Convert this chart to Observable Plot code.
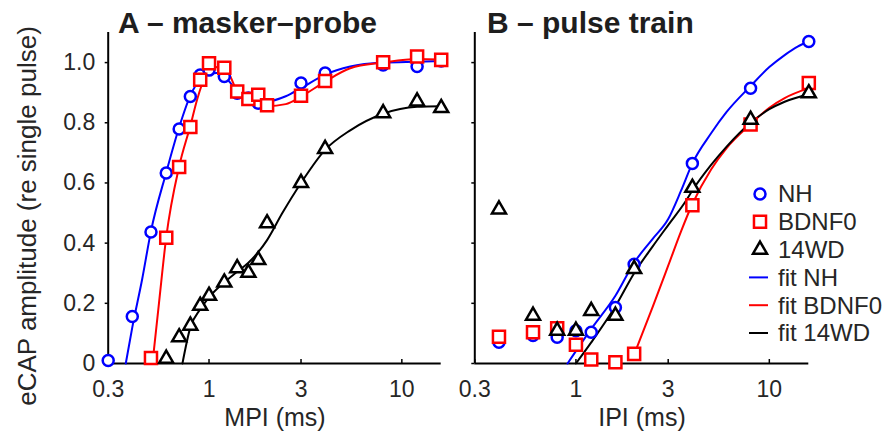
<!DOCTYPE html>
<html>
<head>
<meta charset="utf-8">
<script src="https://cdn.jsdelivr.net/npm/d3@7"></script>
<script src="https://cdn.jsdelivr.net/npm/@observablehq/plot@0.6"></script>
<style>
  body { margin: 0; background: #fff; }
  #fig { position: relative; width: 895px; height: 433px; overflow: hidden;
         font-family: "Liberation Sans", Arial, Helvetica, sans-serif; }
  #fig > svg { position: absolute; top: 0; }
  #overlay { position: absolute; left: 0; top: 0; pointer-events: none; }
</style>
</head>
<body>
<div id="fig"></div>
<script>
// ---------- Panel A: masker-probe (MPI, ms) ----------
const mpiNH = [0.3, 0.4, 0.5, 0.6, 0.7, 0.8, 0.9, 1.0, 1.2, 1.4, 1.6, 1.8, 2.0, 3, 4, 8, 12, 16];
const ampNH_A = [0.01, 0.156, 0.437, 0.633, 0.779, 0.887, 0.959, 0.975, 0.954, 0.898, 0.882, 0.865, 0.858, 0.932, 0.965, 0.992, 0.987, 1.005];

const mpiBDNF0 = [0.5, 0.6, 0.7, 0.8, 0.9, 1.0, 1.2, 1.4, 1.6, 1.8, 2.0, 3, 4, 8, 12, 16];
const ampBDNF0_A = [0.018, 0.418, 0.653, 0.786, 0.943, 0.998, 0.983, 0.904, 0.879, 0.893, 0.858, 0.890, 0.939, 1.001, 1.02, 1.009];

const mpi14WD = [0.6, 0.7, 0.8, 0.9, 1.0, 1.2, 1.4, 1.6, 1.8, 2.0, 3, 4, 8, 12, 16];
const amp14WD_A = [0.016, 0.087, 0.126, 0.192, 0.225, 0.269, 0.317, 0.302, 0.344, 0.466, 0.600, 0.713, 0.832, 0.871, 0.849];

// fitted curves, panel A
const fitNH_A_x = [0.37, 0.4, 0.45, 0.5, 0.6, 0.7, 0.8, 0.9, 1.0, 1.1, 1.2, 1.3, 1.4, 1.6, 1.8, 2.0, 2.5, 3, 4, 5.4, 8, 12, 16];
const fitNH_A_y = [0, 0.12, 0.28, 0.44, 0.635, 0.785, 0.89, 0.945, 0.963, 0.965, 0.955, 0.93, 0.905, 0.882, 0.872, 0.871, 0.888, 0.915, 0.96, 0.987, 1.0, 1.003, 1.005];
const fitBDNF0_A_x = [0.509, 0.55, 0.6, 0.7, 0.8, 0.87, 0.95, 1.05, 1.15, 1.25, 1.4, 1.6, 1.8, 2.0, 2.5, 3, 4, 5.4, 8, 12, 16];
const fitBDNF0_A_y = [0, 0.2, 0.42, 0.655, 0.79, 0.88, 0.95, 0.98, 0.987, 0.97, 0.905, 0.878, 0.862, 0.855, 0.862, 0.887, 0.937, 0.981, 1.0, 1.012, 1.01];
const fit14WD_A_x = [0.728, 0.8, 0.9, 1.0, 1.2, 1.4, 1.6, 1.8, 2.0, 2.4, 3, 4, 5.4, 8, 12, 16];
const fit14WD_A_y = [0, 0.12, 0.18, 0.22, 0.27, 0.305, 0.335, 0.37, 0.41, 0.50, 0.60, 0.71, 0.775, 0.83, 0.853, 0.855];

// ---------- Panel B: pulse train (IPI, ms) ----------
const ipi = [0.4, 0.6, 0.8, 1.0, 1.2, 1.6, 2, 4, 8, 16];
const ampNH_B = [0.071, 0.093, 0.087, 0.109, 0.104, 0.186, 0.330, 0.665, 0.915, 1.07];
const ampBDNF0_B = [0.089, 0.104, 0.117, 0.062, 0.013, 0.004, 0.032, 0.526, 0.794, 0.932];
const amp14WD_B = [0.512, 0.159, 0.109, 0.109, 0.175, 0.159, 0.314, 0.584, 0.81, 0.898];

// fitted curves, panel B
const fitNH_B_x = [0.905, 1.2, 1.6, 2, 2.5, 3, 3.5, 4, 5, 6, 8, 10, 12, 14, 16];
const fitNH_B_y = [0, 0.115, 0.225, 0.335, 0.415, 0.48, 0.575, 0.665, 0.765, 0.835, 0.922, 0.985, 1.025, 1.053, 1.07];
const fitBDNF0_B_x = [2.0, 2.5, 3, 3.5, 4, 5, 6, 8, 10, 12, 16];
const fitBDNF0_B_y = [0.03, 0.19, 0.325, 0.44, 0.53, 0.645, 0.715, 0.795, 0.85, 0.882, 0.915];
const fit14WD_B_x = [1.0, 1.2, 1.6, 2, 2.5, 3, 3.7, 4, 5, 6, 8, 10, 12, 16];
const fit14WD_B_y = [0, 0.07, 0.19, 0.30, 0.39, 0.46, 0.54, 0.575, 0.66, 0.72, 0.80, 0.845, 0.87, 0.895];

// axes
const xTicks = [0.3, 1, 3, 10];
const yTicks = [0, 0.2, 0.4, 0.6, 0.8, 1.0];
const groups = ["NH", "BDNF0", "14WD"];
const fitLabels = ["fit NH", "fit BDNF0", "fit 14WD"];
const titleA = "A \u2013 masker\u2013probe";
const titleB = "B \u2013 pulse train";
const xLabelA = "MPI (ms)";
const xLabelB = "IPI (ms)";
const yLabel = "eCAP amplitude (re single pulse)";

const colors = {NH: "#0000ff", BDNF0: "#ff0000", "14WD": "#000000"};
const symbols = {NH: "circle", BDNF0: "square", "14WD": "triangle"};
const radius = {NH: 5.5, BDNF0: 6.8, "14WD": 5.2};

const pts = (xs, ys) => xs.map((x, i) => ({x, y: ys[i]}));

function panel({width, marginLeft, marginRight, series, fits, yLabels}) {
  return Plot.plot({
    width, height: 433,
    marginLeft, marginRight, marginTop: 32, marginBottom: 70,
    style: {background: "transparent", fontFamily: "Liberation Sans, Arial, sans-serif",
            fontSize: "23px", color: "#262626", overflow: "visible"},
    x: {type: "log", domain: [0.3, 16]},
    y: {domain: [0, 1.1]},
    marks: [
      Plot.axisX({ticks: xTicks, tickFormat: d => String(d), tickSize: -4, tickPadding: 21,
                  stroke: "black", strokeWidth: 1.5, label: null}),
      Plot.axisY({ticks: yTicks, tickSize: 3, tickPadding: 10, stroke: "black", strokeWidth: 1.5,
                  tickFormat: yLabels ? (d => d === 0 ? "0" : d.toFixed(1)) : (() => ""), label: null}),
      Plot.ruleY([0], {stroke: "black", strokeWidth: 2}),
      Plot.ruleX([0.3], {stroke: "black", strokeWidth: 2}),
      ...groups.map(g => Plot.line(fits[g], {x: "x", y: "y", stroke: colors[g], strokeWidth: 2, curve: "monotone-x"})),
      ...groups.map(g => Plot.dot(series[g], {x: "x", y: "y", symbol: symbols[g], r: radius[g],
                                              stroke: colors[g], strokeWidth: 2.5, fill: "white"}))
    ]
  });
}

const svgA = panel({
  width: 460, marginLeft: 107.7, marginRight: 19.3, yLabels: true,
  series: {NH: pts(mpiNH, ampNH_A), BDNF0: pts(mpiBDNF0, ampBDNF0_A), "14WD": pts(mpi14WD, amp14WD_A)},
  fits: {NH: pts(fitNH_A_x, fitNH_A_y), BDNF0: pts(fitBDNF0_A_x, fitBDNF0_A_y), "14WD": pts(fit14WD_A_x, fit14WD_A_y)}
});
const svgB = panel({
  width: 435, marginLeft: 14.3, marginRight: 86.7, yLabels: false,
  series: {NH: pts(ipi, ampNH_B), BDNF0: pts(ipi, ampBDNF0_B), "14WD": pts(ipi, amp14WD_B)},
  fits: {NH: pts(fitNH_B_x, fitNH_B_y), BDNF0: pts(fitBDNF0_B_x, fitBDNF0_B_y), "14WD": pts(fit14WD_B_x, fit14WD_B_y)}
});
svgA.style.left = "0px";
svgB.style.left = "460px";
const fig = document.getElementById("fig");
fig.append(svgA, svgB);

// titles, axis labels and legend
const ov = d3.select(fig).append("svg").attr("id", "overlay")
  .attr("width", 895).attr("height", 433)
  .style("font-family", "Liberation Sans, Arial, sans-serif");

ov.append("text").attr("x", 118).attr("y", 33).attr("font-size", 30).attr("font-weight", "bold")
  .attr("fill", "#1e1e1e").text(titleA);
ov.append("text").attr("x", 487).attr("y", 33).attr("font-size", 30).attr("font-weight", "bold")
  .attr("fill", "#1e1e1e").text(titleB);
ov.append("text").attr("x", 275).attr("y", 426).attr("font-size", 25).attr("text-anchor", "middle")
  .attr("fill", "#262626").text(xLabelA);
ov.append("text").attr("x", 642).attr("y", 426).attr("font-size", 25).attr("text-anchor", "middle")
  .attr("fill", "#262626").text(xLabelB);
ov.append("text").attr("transform", "translate(36,216) rotate(-90)").attr("font-size", 26)
  .attr("text-anchor", "middle").attr("fill", "#262626").text(yLabel);

const legX = 760, legTextX = 778, legY0 = 194, legDy = 27.8;
groups.forEach((g, i) => {
  const y = legY0 + i * legDy;
  const sym = d3.symbol().type(symbols[g] === "circle" ? d3.symbolCircle : symbols[g] === "square" ? d3.symbolSquare : d3.symbolTriangle)
    .size(Math.PI * radius[g] * radius[g]);
  ov.append("path").attr("d", sym()).attr("transform", `translate(${legX},${y})`)
    .attr("fill", "white").attr("stroke", colors[g]).attr("stroke-width", 2.5);
  ov.append("text").attr("x", legTextX).attr("y", y).attr("dy", "0.35em").attr("font-size", 24)
    .attr("fill", "#262626").text(g);
});
groups.forEach((g, i) => {
  const y = legY0 + (i + 3) * legDy;
  ov.append("line").attr("x1", 749).attr("x2", 768).attr("y1", y).attr("y2", y)
    .attr("stroke", colors[g]).attr("stroke-width", 2);
  ov.append("text").attr("x", legTextX).attr("y", y).attr("dy", "0.35em").attr("font-size", 24)
    .attr("fill", "#262626").text(fitLabels[i]);
});
</script>
</body>
</html>
